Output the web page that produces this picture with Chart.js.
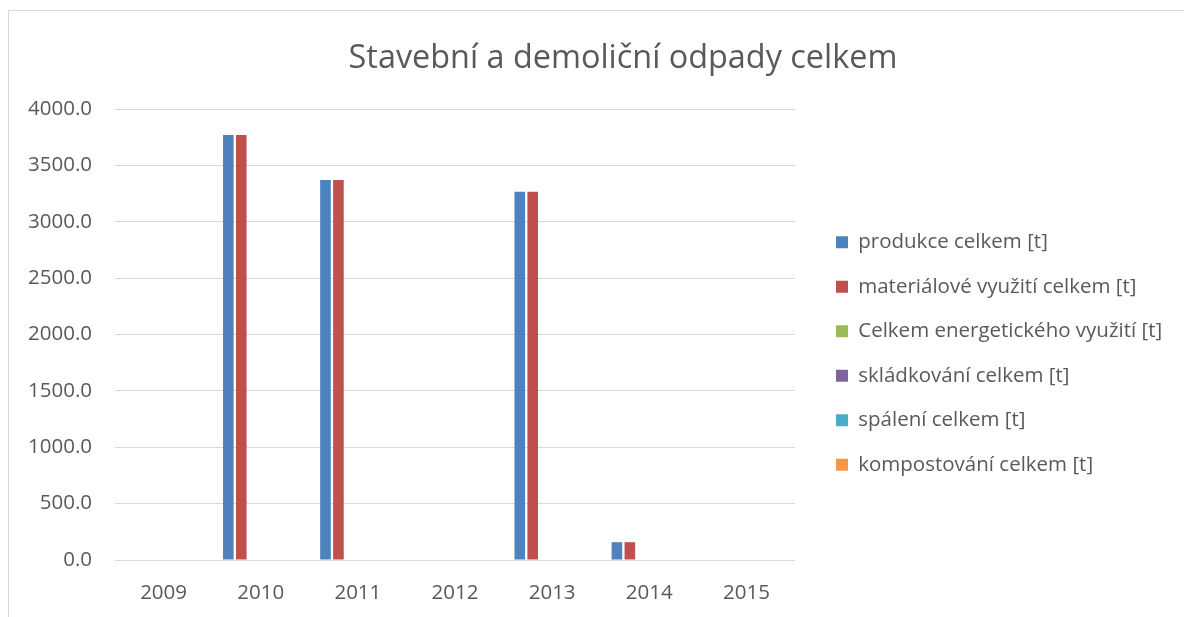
<!DOCTYPE html>
<html lang="cs">
<head>
<meta charset="utf-8">
<title>Stavební a demoliční odpady celkem</title>
<script src="https://cdn.jsdelivr.net/npm/chart.js@4/dist/chart.umd.min.js"></script>
<style>
  html, body { margin: 0; padding: 0; background: #fff; overflow: hidden; }
  #ramecek { position: absolute; left: 8px; top: 10px; width: 1400px; height: 900px; border: 1px solid #d9d9d9; }
  #obal { position: absolute; left: 0; top: 0; width: 1184px; height: 617px; }
</style>
</head>
<body>
<div id="ramecek"></div>
<div id="obal"><canvas id="graf" width="1184" height="617"></canvas></div>
<script>
// ─── DATA ─────────────────────────────────────────────
const NADPIS = 'Stavební a demoliční odpady celkem';
const roky = ['2009', '2010', '2011', '2012', '2013', '2014', '2015'];

const produkce     = [0, 3770, 3370, 0, 3265, 158, 0];
const materialove  = [0, 3770, 3370, 0, 3265, 158, 0];
const energeticke  = [0, 0, 0, 0, 0, 0, 0];
const skladkovani  = [0, 0, 0, 0, 0, 0, 0];
const spaleni      = [0, 0, 0, 0, 0, 0, 0];
const kompostovani = [0, 0, 0, 0, 0, 0, 0];

const nazvy = [
  'produkce celkem [t]',
  'materiálové využití celkem [t]',
  'Celkem energetického využití [t]',
  'skládkování celkem [t]',
  'spálení celkem [t]',
  'kompostování celkem [t]',
];
const BARVY = ['#4f81bd', '#c0504d', '#9bbb59', '#8064a2', '#4bacc6', '#f79646'];

const osaMax   = 4000;
const osaKrok  = 500;

// ─── VZHLED ───────────────────────────────────────────
const TEXT   = '#595959';
const MRIZKA = '#d9d9d9';
const FONT   = '"Open Sans"';
const VEL    = 20.5;

// šířka legendy, aby plocha grafu končila u x = 795
const mc = document.createElement('canvas').getContext('2d');
mc.font = VEL + 'px ' + FONT;
const nejdelsi = Math.max(...nazvy.map(n => mc.measureText(n).width));
const LEG_PAD  = 24;
const legendaW = LEG_PAD + 12 + VEL / 2 + nejdelsi + 10;
const mezera   = 17;
const vpravo   = Math.max(0, 1184 - 795 - mezera - legendaW);

Chart.defaults.font.family = FONT;
Chart.defaults.color = TEXT;

const nadpisPlugin = {
  id: 'nadpis',
  afterDraw(chart) {
    const ctx = chart.ctx;
    ctx.save();
    ctx.font = '32.4px ' + FONT;
    ctx.fillStyle = TEXT;
    ctx.textAlign = 'center';
    ctx.textBaseline = 'alphabetic';
    ctx.fillText(NADPIS, 623, 68);
    ctx.restore();
  },
};

const rady = [produkce, materialove, energeticke, skladkovani, spaleni, kompostovani];

// pomocná prázdná osa (jen odsazení)
const prazdnaOsa = (pozice, velikost) => ({
  type: 'linear',
  position: pozice,
  grid: { display: false },
  border: { display: false },
  ticks: { display: false },
  afterFit(s) {
    if (s.isHorizontal()) s.height = velikost; else s.width = velikost;
  },
});

new Chart(document.getElementById('graf'), {
  type: 'bar',
  data: {
    labels: roky,
    datasets: rady.map((d, i) => ({
      label: nazvy[i],
      data: d,
      backgroundColor: BARVY[i],
      borderWidth: 0,
      categoryPercentage: 0.8,
      barPercentage: 0.82,
    })),
  },
  options: {
    responsive: false,
    animation: false,
    layout: { padding: { left: 25, top: 95, right: vpravo, bottom: 5 } },
    plugins: {
      title: { display: false },
      tooltip: { enabled: false },
      legend: {
        position: 'right',
        maxWidth: 420,
        labels: {
          boxWidth: 12,
          boxHeight: 12,
          padding: LEG_PAD,
          color: TEXT,
          font: { size: VEL },
        },
      },
    },
    scales: {
      x: {
        grid: { display: false },
        border: { display: false },
        ticks: { color: TEXT, font: { size: VEL }, padding: 13 },
        afterFit(s) { s.height = 52; },
      },
      y: {
        min: 0,
        max: osaMax,
        grid: { color: MRIZKA, lineWidth: 1, drawTicks: false },
        border: { display: false },
        ticks: {
          stepSize: osaKrok,
          padding: 23,
          color: TEXT,
          font: { size: VEL },
          callback: v => v.toFixed(1),
        },
        afterFit(s) { s.width = 90; },
      },
      nahore: prazdnaOsa('top', 14),
      vpravoOsa: prazdnaOsa('right', mezera),
    },
  },
  plugins: [nadpisPlugin],
});
</script>
</body>
</html>
